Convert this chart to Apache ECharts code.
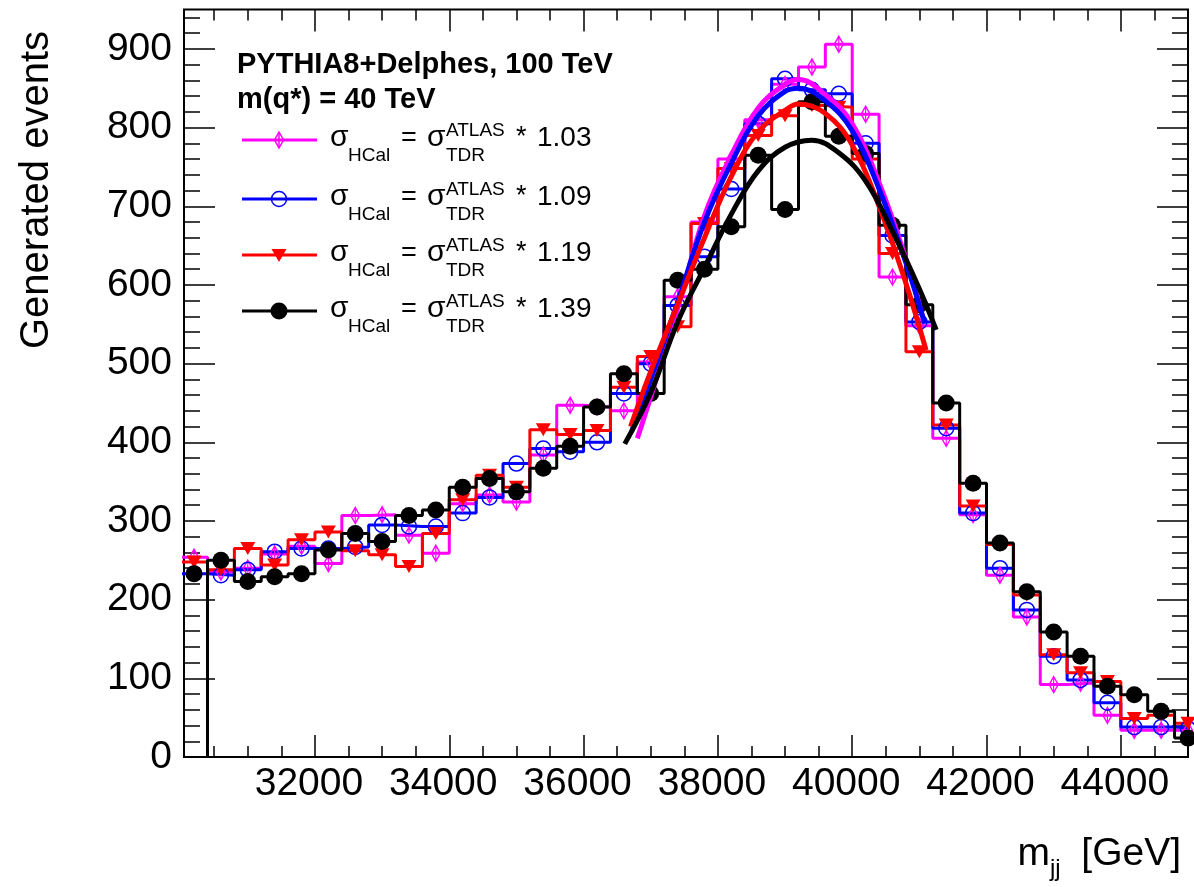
<!DOCTYPE html>
<html><head><meta charset="utf-8">
<script src="https://cdn.jsdelivr.net/npm/echarts@6/dist/echarts.min.js"></script>
<style>html,body{margin:0;padding:0;background:#fff}#c{width:1194px;height:887px}</style>
</head><body><div id="c"></div>
<script>
// ---- data ----
const binCenters = [30200,30600,31000,31400,31800,32200,32600,33000,33400,33800,34200,34600,35000,35400,35800,36200,36600,37000,37400,37800,38200,38600,39000,39400,39800,40200,40600,41000,41400,41800,42200,42600,43000,43400,43800,44200,44600,45000];
const binWidth = 400;
const hist103 = [254,235,240,258,268,246,307,308,282,259,322,333,324,384,447,445,440,502,585,680,760,810,855,877,906,817,610,548,405,308,231,178,92,94,53,34,34,34];
const hist109 = [233,231,238,261,265,265,267,295,293,293,310,330,373,392,388,400,462,500,574,636,722,805,862,848,843,780,663,553,418,310,240,187,128,98,69,38,38,36];
const hist119 = [248,238,265,244,276,286,262,257,242,284,327,358,343,416,410,415,470,509,547,678,748,790,815,828,826,760,640,515,422,319,270,206,130,107,96,49,53,43];
const hist139 = [233,250,223,229,233,263,284,274,307,314,343,354,337,367,395,445,487,462,606,620,674,765,696,833,789,767,676,575,450,348,272,210,159,128,90,79,58,24];
const firstLineBin = {h103:0, h109:0, h119:0, h139:1};
const fit103x = [36800,37000,37400,37800,38200,38600,39000,39200,39600,40000,40400,40800,41050];
const fit103y = [405,458,570,688,765,825,855,861,842,805,730,633,559];
const fit109x = [36720,37000,37400,37800,38200,38600,39000,39200,39600,40000,40400,40800,41080];
const fit109y = [415,480,578,680,755,815,846,850,834,796,722,628,551];
const fit119x = [36700,37000,37400,37800,38200,38600,39000,39200,39600,40000,40400,40800,41100];
const fit119y = [420,490,575,660,738,795,822,830,818,778,700,602,517];
const fit139x = [36613,37000,37400,37800,38200,38600,39000,39400,39800,40200,40600,41000,41250];
const fit139y = [398,463,553,622,690,745,775,784,768,732,668,595,543];
const xMajorTicks = [32000,34000,36000,38000,40000,42000,44000];
const xMinorTicks = [30500,31000,31500,32000,32500,33000,33500,34000,34500,35000,35500,36000,36500,37000,37500,38000,38500,39000,39500,40000,40500,41000,41500,42000,42500,43000,43500,44000,44500,45000];
const yMajorTicks = [0,100,200,300,400,500,600,700,800,900];
const yMinorTicks = [0,20,40,60,80,100,120,140,160,180,200,220,240,260,280,300,320,340,360,380,400,420,440,460,480,500,520,540,560,580,600,620,640,660,680,700,720,740,760,780,800,820,840,860,880,900,920,940];
const scaleLabels = ['1.03','1.09','1.19','1.39'];

// ---- styles ----
const FONT = '"Liberation Sans", Arial, Helvetica, sans-serif';
const X_MIN = 30050, X_MAX = 45000, Y_MIN = 0, Y_MAX = 950;
const colors = {h103:'#ff00ff', h109:'#0000ff', h119:'#ff0000', h139:'#000000'};
const markers = {
  h103:{symbol:'path://M5 0 L10 10 L5 20 L0 10 Z M5 0 L5 20', symbolSize:[9,16], itemStyle:{color:'rgba(255,255,255,0)', borderColor:'#ff00ff', borderWidth:1.5, opacity:1}},
  h109:{symbol:'circle', symbolSize:15, itemStyle:{color:'rgba(255,255,255,0)', borderColor:'#0000ff', borderWidth:1.5, opacity:1}},
  h119:{symbol:'triangle', symbolRotate:180, symbolSize:[15,13], itemStyle:{color:'#ff0000', opacity:1}},
  h139:{symbol:'circle', symbolSize:17, itemStyle:{color:'#000000', opacity:1}}
};
const hists = {h103:hist103, h109:hist109, h119:hist119, h139:hist139};
const fits = {h103:[fit103x,fit103y], h109:[fit109x,fit109y], h119:[fit119x,fit119y], h139:[fit139x,fit139y]};
const order = ['h103','h109','h119','h139'];

function stepData(vals, startIdx) {
  const d = [];
  if (startIdx > 0) d.push([binCenters[startIdx] - binWidth/2, 0]);
  for (let k = startIdx; k < vals.length; k++) d.push([binCenters[k] - binWidth/2, vals[k]]);
  d.push([binCenters[vals.length-1] + binWidth/2, vals[vals.length-1]]);
  return d;
}

const series = [];
order.forEach(key => {
  series.push({type:'line', step:'end', data: stepData(hists[key], firstLineBin[key]), symbol:'none',
    lineStyle:{color:colors[key], width:3}, clip:true, silent:true, z:2});
  series.push(Object.assign({type:'scatter', data: binCenters.map((x,i)=>[x, hists[key][i]]), clip:true, silent:true, z:2}, markers[key]));
});
order.forEach(key => {
  const [fx, fy] = fits[key];
  series.push({type:'line', data: fx.map((x,i)=>[x, fy[i]]), smooth:0.4, symbol:'none',
    lineStyle:{color:colors[key], width:5}, clip:true, silent:true, z:3});
});

function xAx(pos, ticks, len, labels) {
  return {type:'value', min:X_MIN, max:X_MAX, position:pos,
    axisLine:{show:false, onZero:false}, splitLine:{show:false},
    axisTick:{show:true, inside:true, length:len, customValues:ticks, lineStyle:{color:'#000', width:1.5}},
    axisLabel: labels ? {show:true, customValues:ticks, formatter: v => String(v), fontSize:39, fontFamily:FONT, color:'#000', margin:8, padding:[0,12,0,0]} : {show:false}};
}
function yAx(pos, ticks, len, labels) {
  return {type:'value', min:Y_MIN, max:Y_MAX, position:pos,
    axisLine:{show:false, onZero:false}, splitLine:{show:false},
    axisTick:{show:true, inside:true, length:len, customValues:ticks, lineStyle:{color:'#000', width:1.5}},
    axisLabel: labels ? {show:true, customValues:ticks, formatter: v => String(v), fontSize:39, fontFamily:FONT, color:'#000', margin:12} : {show:false}};
}

function T(x, base, text, fs, opt) {
  opt = opt || {};
  return {type:'text', x:x, y: base - 0.34*fs, rotation: opt.rotation || 0, z:10,
    style:{text:text, fontSize:fs, fontFamily:FONT, fontWeight: opt.bold ? 'bold' : 'normal', fill:'#000',
      align: opt.align || 'left', textAlign: opt.align || 'left', verticalAlign:'middle', textVerticalAlign:'middle'}};
}

const graphics = [];
graphics.push(T(237, 75, 'PYTHIA8+Delphes, 100 TeV', 29, {bold:true}));
graphics.push(T(237, 110, 'm(q*) = 40 TeV', 29, {bold:true}));
const rowLine = [140, 199, 255, 311];
order.forEach((key, i) => {
  const ly = rowLine[i], b = ly + 8, c = colors[key], mx = 279;
  graphics.push({type:'line', z:10, shape:{x1:242, y1:ly, x2:317, y2:ly}, style:{stroke:c, lineWidth:3}});
  if (key === 'h103') graphics.push({type:'polygon', z:11, shape:{points:[[mx,ly-8],[mx+4.5,ly],[mx,ly+8],[mx-4.5,ly]]}, style:{fill:'rgba(255,255,255,0)', stroke:c, lineWidth:1.5}},
      {type:'line', z:11, shape:{x1:mx, y1:ly-8, x2:mx, y2:ly+8}, style:{stroke:c, lineWidth:1.5}});
  if (key === 'h109') graphics.push({type:'circle', z:11, shape:{cx:mx, cy:ly, r:7.5}, style:{fill:'rgba(255,255,255,0)', stroke:c, lineWidth:1.5}});
  if (key === 'h119') graphics.push({type:'polygon', z:11, shape:{points:[[mx-7.5,ly-6],[mx+7.5,ly-6],[mx,ly+7]]}, style:{fill:c}});
  if (key === 'h139') graphics.push({type:'circle', z:11, shape:{cx:mx, cy:ly, r:8.5}, style:{fill:c}});
  graphics.push(T(330, b, 'σ', 30));
  graphics.push(T(348, b+14, 'HCal', 19));
  graphics.push(T(401, b, '=', 27));
  graphics.push(T(427, b, 'σ', 30));
  graphics.push(T(446, b-11, 'ATLAS', 19));
  graphics.push(T(446, b+14, 'TDR', 19));
  graphics.push(T(516, b-1, '*', 27));
  graphics.push(T(537, b, scaleLabels[i], 28));
});
// axis titles
const yTitle = T(0, 0, 'Generated events', 40, {rotation: Math.PI/2, align:'center'});
yTitle.x = 51 - 0.34*40; yTitle.y = 190;
graphics.push(yTitle);
graphics.push(T(1050, 868, 'm', 39, {align:'right'}));
graphics.push(T(1050, 878, 'jj', 24));
graphics.push(T(1181, 868, '[GeV]', 39, {align:'right'}));

const chart = echarts.init(document.getElementById('c'), null, {renderer:'canvas'});
chart.setOption({
  animation:false,
  backgroundColor:'#ffffff',
  grid:{show:true, left:184, right:6, top:9.6, bottom:130, borderColor:'#000', borderWidth:2, backgroundColor:'rgba(0,0,0,0)', containLabel:false, outerBoundsMode:'none'},
  xAxis:[xAx('bottom', xMajorTicks, 22, true), xAx('bottom', xMinorTicks, 11, false), xAx('top', xMajorTicks, 22, false), xAx('top', xMinorTicks, 11, false)],
  yAxis:[yAx('left', yMajorTicks, 31, true), yAx('left', yMinorTicks, 16, false), yAx('right', yMajorTicks, 31, false), yAx('right', yMinorTicks, 16, false)],
  series: series,
  graphic: graphics
});
</script></body></html>
